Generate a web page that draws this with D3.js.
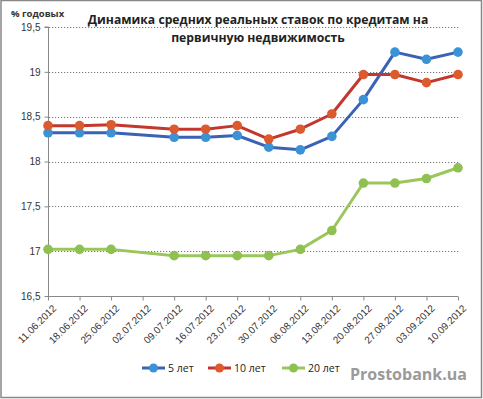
<!DOCTYPE html>
<html>
<head>
<meta charset="utf-8">
<script src="https://cdn.jsdelivr.net/npm/d3@7"></script>
<style>
  body { margin: 0; background: #fff; }
  svg { display: block; font-family: "Open Sans", "DejaVu Sans", sans-serif; }
</style>
</head>
<body>
<div id="chart"></div>
<script>
// dates (weekly), 02.07.2012 has no value
const dates = ['11.06.2012', '18.06.2012', '25.06.2012', '02.07.2012', '09.07.2012', '16.07.2012', '23.07.2012',
    '30.07.2012', '06.08.2012', '13.08.2012', '20.08.2012', '27.08.2012', '03.09.2012', '10.09.2012']

const years5 = [18.32, 18.32, 18.32, null, 18.27, 18.27, 18.29, 18.16, 18.13, 18.28, 18.69, 19.22, 19.14, 19.22]
const years10 = [18.40, 18.40, 18.41, null, 18.36, 18.36, 18.40, 18.25, 18.36, 18.53, 18.97, 18.97, 18.88, 18.97]
const years20 = [17.02, 17.02, 17.02, null, 16.95, 16.95, 16.95, 16.95, 17.02, 17.23, 17.76, 17.76, 17.81, 17.93]

const yTicks = [16.5, 17, 17.5, 18, 18.5, 19, 19.5]

const series = [
    { name: '5 лет', values: years5, line: '#3a62b5', dot: '#3b93d6' },
    { name: '10 лет', values: years10, line: '#c2382e', dot: '#dc5a2e' },
    { name: '20 лет', values: years20, line: '#9bc65a', dot: '#8fc052' },
]

const w = 483
const h = 399
const svg = d3.select('#chart').append('svg').attr('width', w).attr('height', h)

// outer frame
svg.append('rect')
    .attr('x', 1).attr('y', 0.5).attr('width', w - 2.5).attr('height', h - 2)
    .attr('fill', 'none').attr('stroke', '#888').attr('stroke-width', 1.5)

const x = d3.scalePoint().domain(dates).range([48, 458])
const y = d3.scaleLinear().domain([16.5, 19.5]).range([296, 27])

// gridlines
svg.append('g')
    .selectAll('line')
    .data(yTicks.slice(1))
    .join('line')
    .attr('x1', 49).attr('x2', 460)
    .attr('y1', (d) => Math.round(y(d)) + 0.5).attr('y2', (d) => Math.round(y(d)) + 0.5)
    .attr('stroke', '#777').attr('stroke-dasharray', '1.2,1.8')

// y axis
const yAxis = svg.append('g')
    .attr('transform', 'translate(48.5,0)')
    .call(d3.axisLeft(y).tickValues(yTicks).tickSize(4).tickFormat((d) => d3.format('.1~f')(d).replace('.', ',')))
yAxis.select('.domain').attr('stroke', '#888').attr('d', `M-4,${y(19.5)}H0V${y(16.5)}`)
yAxis.selectAll('.tick line').attr('stroke', '#888')
yAxis.selectAll('.tick text').attr('fill', '#333').attr('font-size', 10).attr('x', -8)

// x axis
const xAxis = svg.append('g')
    .attr('transform', `translate(0,${Math.round(y(16.5)) + 0.5})`)
    .call(d3.axisBottom(x).tickSize(4).tickSizeOuter(0))
xAxis.select('.domain').attr('stroke', '#888').attr('d', 'M48,0H458')
xAxis.selectAll('.tick line').attr('stroke', '#888')
xAxis.selectAll('.tick text')
    .attr('fill', '#333').attr('font-size', 10)
    .attr('text-anchor', 'end')
    .attr('transform', 'translate(6,10) rotate(-45)')
    .attr('x', 0).attr('y', 0).attr('dy', '0.35em')

// lines and markers
const line = d3.line()
    .x((d) => x(d[0]))
    .y((d) => y(d[1]))

for (const s of series) {
    const pts = dates.map((d, i) => [d, s.values[i]]).filter((d) => d[1] !== null)
    svg.append('path')
        .datum(pts)
        .attr('d', line)
        .attr('fill', 'none')
        .attr('stroke', s.line)
        .attr('stroke-width', 3)
        .attr('stroke-linejoin', 'round')
    svg.append('g')
        .selectAll('circle')
        .data(pts)
        .join('circle')
        .attr('cx', (d) => x(d[0]))
        .attr('cy', (d) => y(d[1]))
        .attr('r', 4.8)
        .attr('fill', s.dot)
}

// title
const title = svg.append('text')
    .attr('text-anchor', 'middle')
    .attr('font-weight', 'bold')
    .attr('font-size', 12.2)
    .attr('fill', '#222')
title.append('tspan').attr('x', 258).attr('y', 24).text('Динамика средних реальных ставок по кредитам на')
title.append('tspan').attr('x', 258).attr('y', 42).text('первичную недвижимость')

svg.append('text')
    .attr('x', 11).attr('y', 17)
    .attr('font-size', 9.5).attr('font-weight', 'bold').attr('fill', '#333')
    .text('% годовых')

// legend
const legendX = [142, 208, 282]
const legend = svg.append('g')
    .selectAll('g')
    .data(series)
    .join('g')
    .attr('transform', (d, i) => `translate(${legendX[i]},368)`)
legend.append('line')
    .attr('x1', 0).attr('x2', 23)
    .attr('stroke', (d) => d.line).attr('stroke-width', 3)
legend.append('circle')
    .attr('cx', 11.5).attr('r', 4.5).attr('fill', (d) => d.dot)
legend.append('text')
    .attr('x', 26).attr('dy', '0.35em')
    .attr('font-size', 10.5).attr('fill', '#222')
    .text((d) => d.name)

// watermark
svg.append('text')
    .attr('x', 467).attr('y', 380)
    .attr('text-anchor', 'end')
    .attr('font-size', 16).attr('font-weight', 'bold')
    .attr('fill', '#9a9a9a')
    .text('Prostobank.ua')
</script>
</body>
</html>
